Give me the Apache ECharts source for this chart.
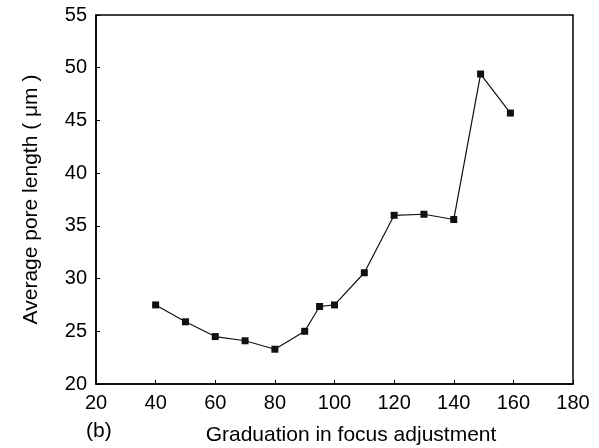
<!DOCTYPE html>
<html>
<head>
<meta charset="utf-8">
<script src="https://cdn.jsdelivr.net/npm/echarts@6/dist/echarts.min.js"></script>
<style>
  html, body { margin: 0; padding: 0; background: #fff; }
  #chart { width: 599px; height: 448px; }
</style>
</head>
<body>
<div id="chart"></div>
<script>
// graduation in focus adjustment vs average pore length (um)
const graduation = [40, 50, 60, 70, 80, 90, 95, 100, 110, 120, 130, 140, 149, 159];
const poreLength = [27.5, 25.9, 24.5, 24.1, 23.3, 25.0, 27.35, 27.5, 30.55, 36.0, 36.1, 35.6, 49.4, 45.7];

const chart = echarts.init(document.getElementById('chart'));

const font = 'Liberation Sans, Arial, sans-serif';
const tickText = {
    color: '#000',
    fontFamily: font,
    fontSize: 20
};
const titleText = {
    color: '#000',
    fontFamily: font,
    fontSize: 21
};

const option = {
    animation: false,
    grid: {
        left: 96,
        right: 26,
        top: 15,
        bottom: 64,
        outerBoundsMode: 'none',
        show: true,
        borderColor: '#000',
        borderWidth: 1.5
    },
    xAxis: {
        type: 'value',
        min: 20,
        max: 180,
        interval: 20,
        name: 'Graduation in focus adjustment',
        nameLocation: 'middle',
        nameGap: 41,
        nameTextStyle: { ...titleText, padding: [0, 0, 0, 33] },
        axisLine: { lineStyle: { color: '#000', width: 1.5 } },
        axisTick: { inside: true, length: 4, lineStyle: { color: '#000' } },
        axisLabel: { ...tickText, margin: 9 },
        splitLine: { show: false }
    },
    yAxis: {
        type: 'value',
        min: 20,
        max: 55,
        interval: 5,
        name: 'Average pore length ( μm )',
        nameLocation: 'middle',
        nameGap: 54,
        nameTextStyle: titleText,
        axisLine: { show: true, lineStyle: { color: '#000', width: 1.5 } },
        axisTick: { show: true, inside: true, length: 4, lineStyle: { color: '#000' } },
        axisLabel: { ...tickText, margin: 9 },
        splitLine: { show: false }
    },
    graphic: [{
        type: 'text',
        left: 86,
        top: 421,
        style: { text: '(b)', fill: '#000', font: '21px ' + font }
    }],
    series: [{
        type: 'line',
        data: graduation.map((g, i) => [g, poreLength[i]]),
        symbol: 'rect',
        symbolSize: 7,
        itemStyle: { color: '#111' },
        lineStyle: { color: '#111', width: 1.2 }
    }]
};

chart.setOption(option);
</script>
</body>
</html>
